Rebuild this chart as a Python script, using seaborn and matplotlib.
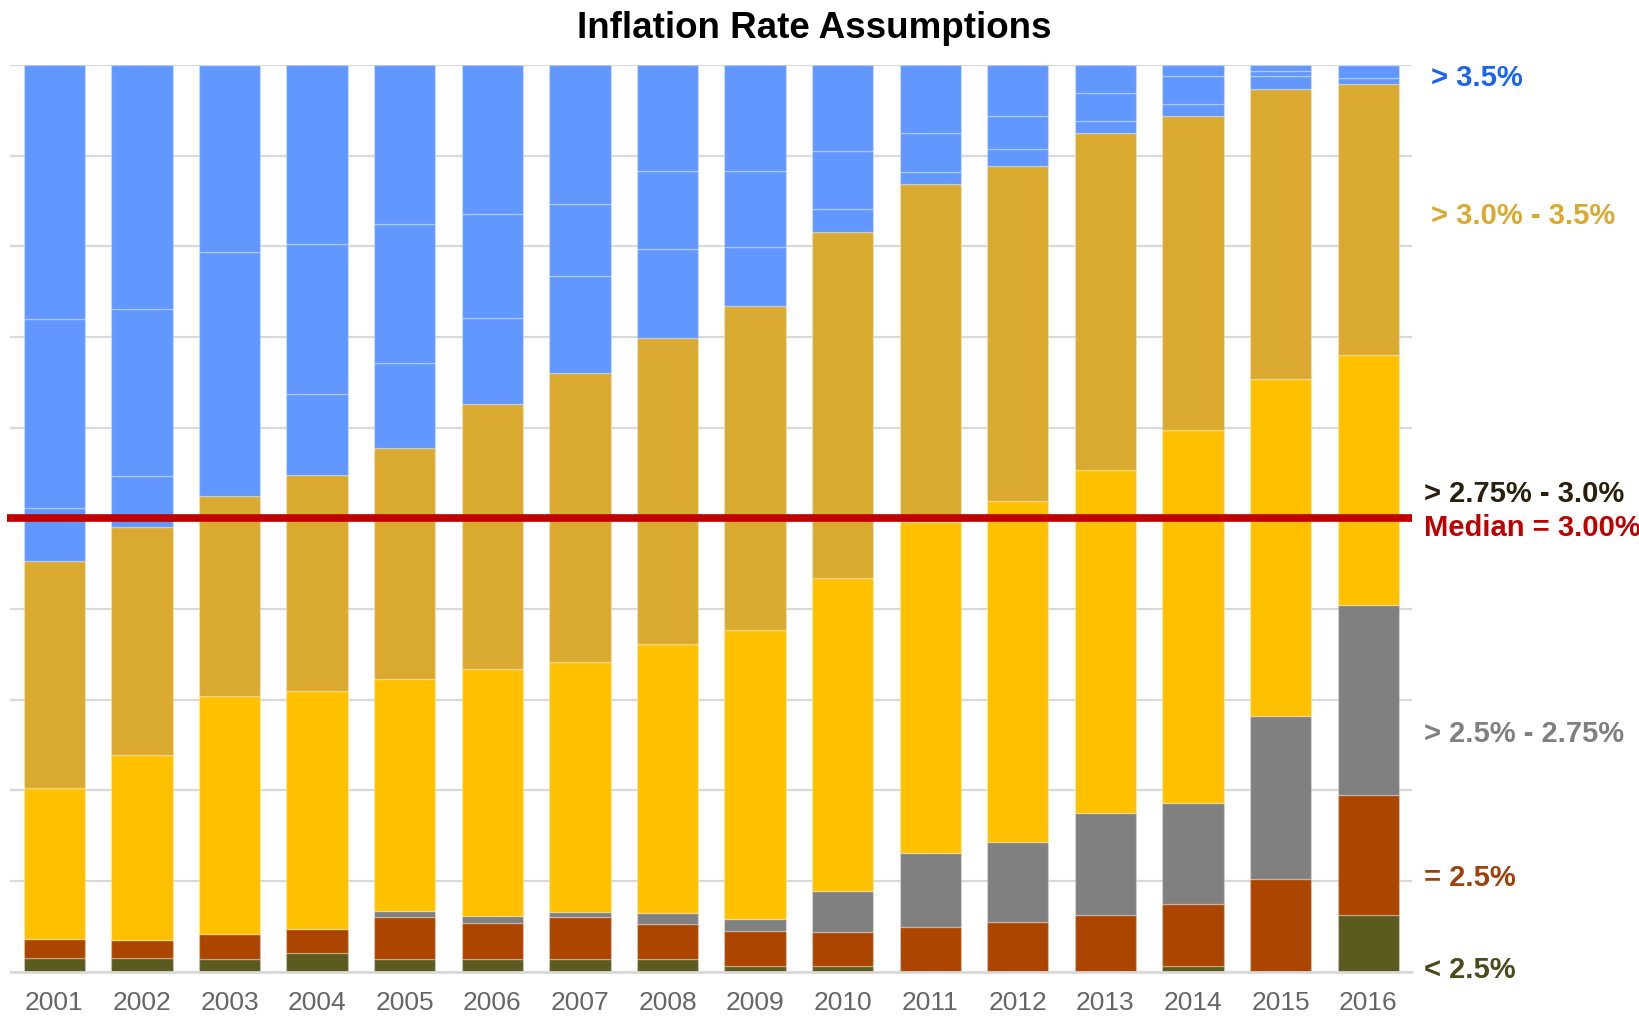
import matplotlib
matplotlib.use("Agg")
import matplotlib.pyplot as plt
import seaborn as sns
import numpy as np

# ---- data (percent of plans) ----
years = [str(y) for y in range(2001, 2017)]
lt_25 = [1.5, 1.5, 1.4, 2.0, 1.4, 1.4, 1.4, 1.4, 0.6, 0.6, 0.0, 0.0, 0.0, 0.6, 0.0, 6.2]
eq_25 = [2.1, 2.0, 2.7, 2.7, 4.6, 4.0, 4.6, 3.8, 3.9, 3.8, 4.9, 5.5, 6.2, 6.9, 10.2, 13.3]
gt_25_275 = [0.0, 0.0, 0.0, 0.0, 0.7, 0.7, 0.6, 1.3, 1.3, 4.5, 8.2, 8.8, 11.3, 11.1, 18.0, 20.9]
gt_275_30 = [16.6, 20.4, 26.3, 26.2, 25.6, 27.3, 27.5, 29.6, 31.9, 34.5, 36.5, 37.6, 37.8, 41.1, 37.2, 27.6]
gt_30_35 = [25.1, 25.1, 22.1, 23.9, 25.4, 29.2, 31.9, 33.8, 35.7, 38.2, 37.3, 37.0, 37.2, 34.7, 32.0, 29.9]
gt_35_a = [5.8, 5.7, 26.9, 8.9, 9.4, 9.5, 10.7, 9.8, 6.5, 2.5, 1.3, 1.8, 1.3, 1.3, 1.4, 0.7]
gt_35_b = [20.9, 18.4, 20.6, 16.5, 15.4, 11.5, 8.0, 8.6, 8.4, 6.4, 4.3, 3.7, 3.1, 3.1, 0.5, 1.4]
gt_35_c = [28.0, 26.9, 0.0, 19.8, 17.5, 16.4, 15.3, 11.7, 11.7, 9.5, 7.5, 5.6, 3.1, 1.2, 0.7, 0.0]
median_pct = 50

series = [lt_25, eq_25, gt_25_275, gt_275_30, gt_30_35, gt_35_a, gt_35_b, gt_35_c]
colors = ["#5B5A1F", "#AB4500", "#808080", "#FFC000", "#DAAA30", "#6197FF", "#6197FF", "#6197FF"]

right_labels = ["> 3.5%", "> 3.0% - 3.5%", "> 2.75% - 3.0%", "Median = 3.00%",
                "> 2.5% - 2.75%", "= 2.5%", "< 2.5%"]
label_colors = ["#1763F5", "#DAAA30", "#2A1E0C", "#C00000", "#808080", "#A0410A", "#4A4A1A"]

# ---- figure ----
sns.set_theme(style="white")
plt.rcParams["font.family"] = ["Liberation Sans", "DejaVu Sans"]

W, H = 1640, 1016
fig = plt.figure(figsize=(W / 100, H / 100), dpi=100)
ax = fig.add_axes([10.5 / W, 1 - 971.5 / H, (1412 - 10.5) / W, (971.5 - 65) / H])

bottom = np.zeros(len(years))
for vals, col in zip(series, colors):
    sns.barplot(x=years, y=vals, bottom=bottom, color=col, saturation=1, width=0.70,
                errorbar=None, edgecolor=(1, 1, 1, 0.25), linewidth=1.0, ax=ax, zorder=2)
    bottom = bottom + np.array(vals)

ax.set_xlim(-0.5, len(years) - 0.5)
ax.set_ylim(0, 100)
ax.set_yticks(np.arange(0, 101, 10))
ax.set_yticklabels([])
ax.yaxis.grid(True, color="#D9D9D9", linewidth=1.6, zorder=0)
ax.set_axisbelow(True)
for s in ["top", "right", "left"]:
    ax.spines[s].set_visible(False)
ax.spines["bottom"].set_color("#D9D9D9")
ax.spines["bottom"].set_linewidth(2)
ax.spines["bottom"].set_zorder(3)
ax.tick_params(axis="x", length=0, pad=14, labelsize=19, labelcolor="#666666")
ax.tick_params(axis="y", length=0)
ax.set_xlabel("")
ax.set_ylabel("")

# median line
ax.plot([-0.54, len(years) - 0.5], [median_pct, median_pct], color="#C00000",
        linewidth=5.5, solid_capstyle="butt", clip_on=False, zorder=5)

# title
fig.text(814 / W, 1 - 28 / H, "Inflation Rate Assumptions", ha="center", va="center",
         fontsize=26.5, fontweight="bold", color="black")

# right-side labels
label_y = [77.5, 215.5, 493.5, 527.5, 733.5, 877.5, 970.5]
label_x = [1431, 1431, 1424, 1424, 1424, 1424, 1424]
for txt, col, xp, yp in zip(right_labels, label_colors, label_x, label_y):
    fig.text(xp / W, 1 - yp / H, txt, ha="left", va="center", fontsize=21,
             fontweight="bold", color=col)

fig.savefig("out.png", dpi=100)
